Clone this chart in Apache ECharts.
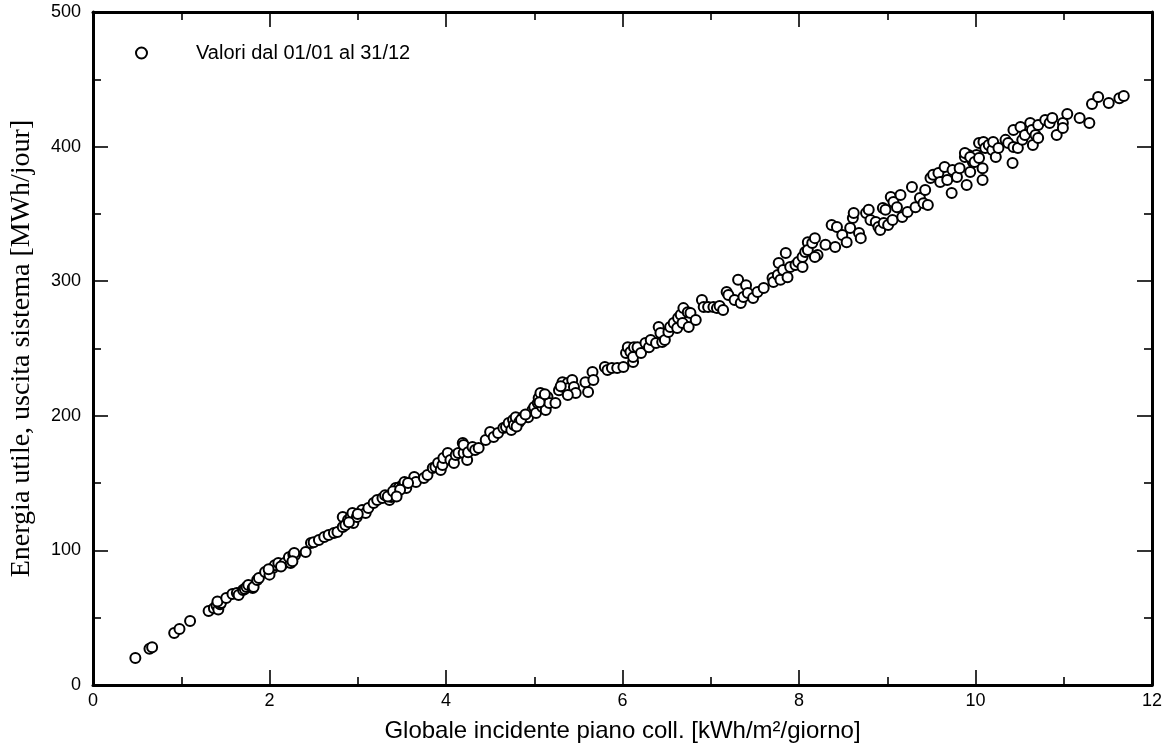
<!DOCTYPE html>
<html>
<head>
<meta charset="UTF-8"/>
<title>Energia utile</title>
<script src="https://cdn.jsdelivr.net/npm/echarts@6/dist/echarts.min.js"></script>
<style>
html,body{margin:0;padding:0;background:#fff;}
#main{width:1170px;height:751px;}
</style>
</head>
<body>
<div id="main"></div>
<script type="text/javascript">
// valori: globale incidente [kWh/m2/giorno] e energia [MWh/giorno]
var globale = [
 0.48,0.64,0.67,0.92,0.98,1.10,1.31,1.37,1.40,1.42,1.44,1.45,1.41,1.51,1.58,1.63,1.65,1.70,1.72,1.74,
 1.76,1.81,1.82,1.86,1.88,1.95,2.04,2.06,2.10,2.17,2.24,2.22,2.27,2.29,2.00,1.99,2.13,
 2.28,2.26,2.41,2.47,2.50,2.56,2.62,2.67,2.73,2.77,2.83,2.83,2.86,2.89,2.92,2.94,2.95,2.99,3.05,
 3.09,3.12,3.18,3.22,3.28,3.31,3.36,3.38,3.41,3.43,3.45,3.47,3.51,3.53,3.55,3.64,3.66,3.75,3.79,
 3.85,3.88,3.91,3.94,3.96,3.97,4.02,4.05,4.09,4.11,4.14,4.19,4.20,4.24,2.90,3.00,3.34,3.40,3.48,3.57,3.44,
 4.20,4.25,4.30,4.33,4.37,4.45,4.50,4.54,4.59,4.65,4.68,4.71,4.74,4.76,4.77,4.79,4.83,4.87,4.93,
 4.98,5.00,5.02,5.04,5.05,5.07,5.09,5.11,5.13,5.15,5.17,5.24,5.28,5.32,5.33,5.38,5.39,5.43,5.45,
 5.47,5.38,5.58,5.61,5.66,5.67,5.80,5.83,5.88,5.94,6.01,6.04,6.06,6.09,6.12,6.13,4.80,4.85,5.06,5.12,5.30,4.90,
 6.12,6.17,6.21,6.26,6.30,6.32,6.38,6.41,6.43,6.45,6.48,6.52,6.54,6.58,6.62,6.63,6.66,6.68,6.69,
 6.74,6.75,6.77,6.83,6.90,6.92,6.97,7.03,7.07,7.10,7.14,7.18,7.20,7.27,7.31,7.34,7.37,7.40,7.42,
 7.48,7.53,7.60,7.70,7.71,7.76,7.77,7.79,7.82,7.85,7.87,7.90,7.96,7.99,8.04,8.07,8.10,
 8.04,8.10,8.15,8.18,8.21,8.18,8.30,8.37,8.41,8.43,8.49,8.54,8.58,8.61,8.62,8.68,8.70,8.76,8.79,
 8.81,8.87,8.90,8.92,8.95,8.98,8.96,9.01,9.06,9.04,9.07,9.11,9.15,9.17,9.23,9.28,9.32,9.37,9.41,
 9.43,9.46,9.49,9.52,9.58,9.60,9.65,9.68,9.73,9.74,9.79,9.82,9.88,9.90,9.92,9.94,9.97,10.01,10.04,
 9.88,9.94,9.99,10.04,10.08,10.08,10.09,10.11,10.15,10.19,10.20,10.23,10.26,10.34,10.37,10.42,10.43,
 10.43,10.48,10.51,10.53,10.56,10.62,10.64,10.65,10.68,10.71,10.71,10.79,10.84,10.87,10.92,10.99,
 10.99,11.04,11.18,11.29,11.32,11.39,11.51,11.63,11.68
];
var energia = [
 20,27,28,38.6,41.6,47.5,55,57,59,56,60,61,62,64.6,67.6,68.4,66.9,70.6,71.3,72.8,
 74.3,72,72.8,78,79.5,84,87,89,90.6,90.6,90.6,95,97,96.6,82,86,88,
 98,92,98.8,105.5,106,107.7,110,111.4,113,113.7,117.4,124.8,118.9,122.6,124.8,127.8,120.4,124.8,130,
 127.8,131.5,135.2,137.4,139,141,137.4,139.7,142.6,146.4,143.4,147,148.6,150.8,146.4,154.5,150.8,153.8,156,
 161.2,162,165,159.7,163.4,168.6,172.4,167.2,165,170.9,172.4,179.8,172.4,167.2,121,127,140,144,145,150,140,
 178.3,173,176.8,174.6,176,182,188,184.2,187.2,191,191.7,194.6,189.4,196.9,193.2,199,195.4,199,199,
 204.3,206.5,202,209.5,213.2,217,206.5,211.7,204.3,214,209.5,209.5,219,225,221.4,224.4,220.6,226.6,221.4,
 217,215.5,225,217.7,232.5,226.6,236.3,234,235.5,235.5,236.3,246.6,251,247.4,240,251,192,197,210,216,222,201,
 243.7,251,246.6,254,251,256.3,254,266,261.5,254.8,256.3,262.3,266,269,265.2,272.7,275,269,280,
 277,266,276.4,271.2,286,280.8,280.8,280.8,280,281.5,278.6,292,289.7,286,301,283.8,288.3,297,291.2,
 287.5,292,295,302.4,299.4,304.6,313.5,301,308.3,321,303,310.5,312,314.3,318,321.7,329,
 310.5,323.2,328.4,332,319.5,318,327,341.8,325.4,340.3,334.3,329,339.5,347,350.7,335.8,332,350.7,353,
 345.5,344,340.3,338,354.4,353,343.2,341.8,345.5,362.6,358.8,355,364,347.7,351.4,370,355,361.8,358,
 367.8,356.6,376.7,379,380.4,373.7,384.8,375.2,365.5,382.6,377.4,384,392.3,371.5,393.8,381.1,388.6,393.8,402.7,
 395.2,392.3,388.6,391.5,375.2,384,403.4,399,401.2,397.5,403.4,392.3,399,405,402.7,387.8,412.3,
 399.7,399,414.6,405,408.6,417.5,412.3,401.2,408.6,406.4,416,419.7,417.5,421.2,408.6,417.5,
 413.8,424.2,421.2,417.5,431.6,436.8,432.4,436,437.6
];
var xTicks = {min: 0, max: 12, interval: 2};
var yTicks = {min: 0, max: 500, interval: 100};

var punti = [];
for (var i = 0; i < globale.length; i++) {
    punti.push([globale[i], energia[i]]);
}

var myChart = echarts.init(document.getElementById('main'));

var sans = "'Liberation Sans', Arial, sans-serif";
var serif = "'Liberation Serif', 'Times New Roman', serif";

function asse(extra) {
    var a = {
        type: 'value',
        axisLine: {show: true, onZero: false, lineStyle: {color: '#000', width: 3}},
        axisTick: {show: true, inside: true, length: 15, lineStyle: {color: '#000', width: 1.6}},
        minorTick: {show: true, splitNumber: 2, length: 8, lineStyle: {color: '#000', width: 1.6}},
        splitLine: {show: false},
        axisLabel: {show: false}
    };
    for (var k in extra) a[k] = extra[k];
    return a;
}

var option = {
    animation: false,
    backgroundColor: '#fff',
    grid: {left: 92, right: 18, top: 12, bottom: 66},
    legend: {
        left: 130, top: 38,
        itemWidth: 11, itemHeight: 11,
        data: [{name: 'Valori dal 01/01 al 31/12', icon: 'emptyCircle', itemStyle: {opacity: 1, borderWidth: 1.8}}],
        textStyle: {color: '#000', fontFamily: sans, fontSize: 20, padding: [0, 0, 0, 44]}
    },
    xAxis: [
        asse({
            position: 'bottom', min: xTicks.min, max: xTicks.max, interval: xTicks.interval,
            name: 'Globale incidente piano coll. [kWh/m²/giorno]',
            nameLocation: 'middle', nameGap: 34,
            nameTextStyle: {color: '#000', fontFamily: sans, fontSize: 24},
            axisLabel: {show: true, color: '#000', fontFamily: sans, fontSize: 18, margin: 7}
        }),
        asse({position: 'top', min: xTicks.min, max: xTicks.max, interval: xTicks.interval})
    ],
    yAxis: [
        asse({
            position: 'left', min: yTicks.min, max: yTicks.max, interval: yTicks.interval,
            name: 'Energia utile, uscita sistema [MWh/jour]',
            nameLocation: 'middle', nameGap: 57,
            nameTextStyle: {color: '#000', fontFamily: serif, fontSize: 28},
            axisLabel: {show: true, color: '#000', fontFamily: sans, fontSize: 18, margin: 12}
        }),
        asse({position: 'right', min: yTicks.min, max: yTicks.max, interval: yTicks.interval})
    ],
    series: [{
        name: 'Valori dal 01/01 al 31/12',
        type: 'scatter',
        xAxisIndex: 0,
        yAxisIndex: 0,
        symbol: 'emptyCircle',
        symbolSize: 10,
        itemStyle: {color: '#000', borderColor: '#000', borderWidth: 1.8, opacity: 1},
        data: punti
    }]
};

myChart.setOption(option);
</script>
</body>
</html>
